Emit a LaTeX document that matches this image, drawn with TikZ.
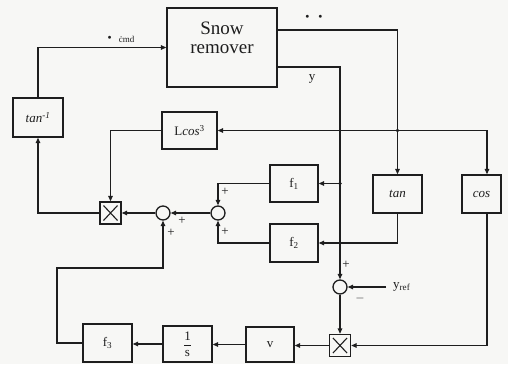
\documentclass[tikz,border=0pt]{standalone}
\usepackage{fontspec}
\setmainfont{Liberation Serif}
\usetikzlibrary{
	positioning,
	arrows.meta,
	calc
}
\definecolor{InkGray}{RGB}{30,30,30}
\definecolor{PaperGray}{RGB}{247,247,245}

\tikzset{
	blockbox/.style={draw=InkGray, line width=1.3pt, minimum width=48pt, minimum height=37pt, inner sep=0pt, font=\fontsize{13}{14}\selectfont, text=InkGray},
	sumnode/.style={draw=InkGray, line width=1.3pt, circle, minimum size=14pt, inner sep=0pt},
	multbox/.style={draw=InkGray, line width=1.3pt, minimum width=21pt, minimum height=22pt, inner sep=0pt,
		path picture={
			\draw[InkGray, line width=1.1pt]
			($(path picture bounding box.north west)+(3.5pt,-3.5pt)$) -- ($(path picture bounding box.south east)+(-3.5pt,3.5pt)$)
			($(path picture bounding box.south west)+(3.5pt,3.5pt)$) -- ($(path picture bounding box.north east)+(-3.5pt,-3.5pt)$);
		}},
	signal/.style={InkGray, line width=1.3pt, -{Triangle[length=5.5pt,width=4.5pt]}},
	signlabel/.style={font=\fontsize{13}{14}\selectfont, inner sep=0pt, text=InkGray}
}

\begin{document}
\begin{tikzpicture}[x=1pt, y=-1pt]

	% Page
	\fill[PaperGray] (0,0) rectangle (508,364);
	\useasboundingbox (0,0) rectangle (508,364);

	% Blocks
	\node[blockbox, minimum width=110pt, minimum height=79pt] (snow) at (222,47.5) {};
	\node[font=\fontsize{19}{19}\selectfont, align=center, text=InkGray] (snowtext) at (222,38) {Snow\\remover};
	\node[blockbox, minimum width=50pt, minimum height=39pt] (taninv) at (38,117.5) {\textit{tan}\textsuperscript{\textit{-1}}};
	\node[blockbox, minimum width=55pt] (lcos) at (189.5,130.5) {L\textit{cos}\textsuperscript{3}};
	\node[blockbox] (fone) at (294,183.5) {f\textsubscript{1}};
	\node[blockbox, minimum height=38pt] (ftwo) at (294,243) {f\textsubscript{2}};
	\node[blockbox, minimum width=49pt, minimum height=38pt] (tan) at (397.5,194) {\textit{tan}};
	\node[blockbox, minimum width=39pt, minimum height=38pt] (cos) at (481.5,194) {\textit{cos}};
	\node[blockbox, minimum height=35pt] (vgain) at (270,344.5) {v};
	\node[blockbox, minimum width=49pt, minimum height=36pt] (integ) at (187.5,344) {$\displaystyle\frac{\mathrm{1}}{\mathrm{s}}$};
	\node[blockbox, minimum width=49pt, minimum height=38pt] (fthree) at (107.5,343) {f\textsubscript{3}};

	% Multipliers and sums
	\node[multbox] (multa) at (110.5,213) {};
	\node[multbox] (multb) at (340,345.5) {};
	\node[sumnode] (suma) at (163,213) {};
	\node[sumnode] (sumb) at (218,213) {};
	\node[sumnode] (sumc) at (340,287) {};

	% Points
	\coordinate (outa) at (277,30);
	\coordinate (outb) at (277,67);
	\coordinate (jn) at (397.5,130.5);
	\coordinate (br) at (340,183.5);
	\coordinate (fb) at (57,268);
	\fill[InkGray] (jn) circle (1.8);
	\fill[InkGray] (br) circle (1.8);

	% Labels
	\node[signlabel, font=\fontsize{9}{9}\selectfont] (cmdlabel) at (121,39) {\raisebox{3pt}{\scriptsize$\bullet$}\hspace{7pt}ċmd};
	\node[signlabel] (dotlabel) at (314,17) {\scriptsize$\bullet$\hspace{9pt}$\bullet$};
	\node[signlabel] (ylabel) at (312,79) {y};
	\node[signlabel, anchor=west] (yref) at (393,287) {y\textsubscript{ref}};
	\node[signlabel] at (182,221) {+};
	\node[signlabel] at (171,233) {+};
	\node[signlabel] at (225,192) {+};
	\node[signlabel] at (225,232) {+};
	\node[signlabel] at (346,265) {+};
	\node[signlabel] at (360,298) {$-$};

	% Connections
	\draw[signal] (taninv.north) |- (snow.west);
	\draw[signal] (outa) -| (tan.north);
	\draw[signal] (jn) -- (lcos.east);
	\draw[signal] (jn) -| ([xshift=5.5pt]cos.north);
	\draw[signal] (outb) -| (sumc.north);
	\draw[signal] (br) -- (fone.east);
	\draw[signal] (tan.south) |- (ftwo.east);
	\draw[signal] (fone.west) -| (sumb.north);
	\draw[signal] (ftwo.west) -| (sumb.south);
	\draw[signal] (sumb.west) -- (suma.east);
	\draw[signal] (suma.west) -- (multa.east);
	\draw[signal] (lcos.west) -| (multa.north);
	\draw[signal] (multa.west) -| (taninv.south);
	\draw[signal] ([xshift=5.5pt]cos.south) |- (multb.east);
	\draw[signal] ([xshift=-7pt]yref.west) -- (sumc.east);
	\draw[signal] (sumc.south) -- (multb.north);
	\draw[signal] (multb.west) -- (vgain.east |- multb.west);
	\draw[signal] (vgain.west) -- (integ.east |- vgain.west);
	\draw[signal] (integ.west) -- (fthree.east |- integ.west);
	\draw[signal] (fthree.west) -| (fb) -| (suma.south);

\end{tikzpicture}
\end{document}
